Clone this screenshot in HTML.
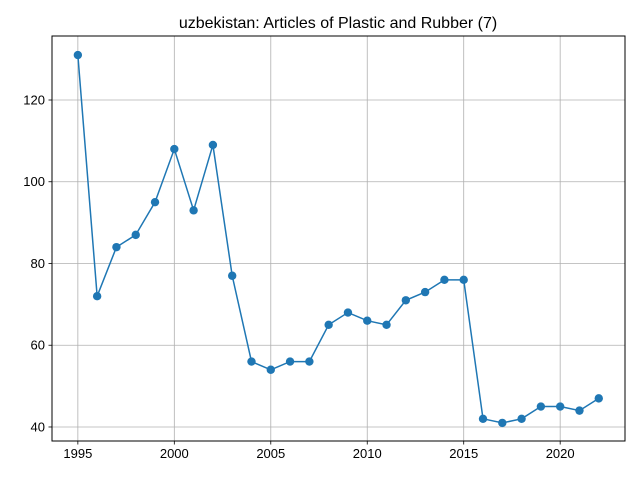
<!DOCTYPE html>
<html><head><meta charset="utf-8"><style>
body{margin:0;background:#fff;}
svg{display:block;font-family:"Liberation Sans","DejaVu Sans",sans-serif;}
</style></head><body>
<svg id="chart" width="640" height="480" viewBox="0 0 640 480">
<rect x="0" y="0" width="640" height="480" fill="#fff"/>
<text x="338" y="28" font-size="16" text-anchor="middle" fill="#000">uzbekistan: Articles of Plastic and Rubber (7)</text>
<g id="grid"></g>
<g id="ticks"></g>
<g id="series"></g>
<rect x="52" y="36" width="573" height="405" fill="none" stroke="#000" stroke-width="1"/>
</svg>
<script>
const years=[1995,1996,1997,1998,1999,2000,2001,2002,2003,2004,2005,2006,2007,2008,2009,2010,2011,2012,2013,2014,2015,2016,2017,2018,2019,2020,2021,2022];
const values=[131,72,84,87,95,108,93,109,77,56,54,56,56,65,68,66,65,71,73,76,76,42,41,42,45,45,44,47];
const xTicks=[1995,2000,2005,2010,2015,2020];
const yTicks=[40,60,80,100,120];
const L=52,R=625,T=36,B=441;
const xMin=1993.66,xMax=2023.36,yMin=36.57,yMax=135.66;
function sx(v){return L+(v-xMin)/(xMax-xMin)*(R-L);}
function sy(v){return B-(v-yMin)/(yMax-yMin)*(B-T);}
const NS="http://www.w3.org/2000/svg";
function mk(tag,attrs,parent){const e=document.createElementNS(NS,tag);for(const k in attrs)e.setAttribute(k,attrs[k]);parent.appendChild(e);return e;}
const grid=document.getElementById('grid'),ticks=document.getElementById('ticks'),series=document.getElementById('series');
xTicks.forEach(t=>{
 const x=sx(t);
 const g=mk('line',{x1:x,x2:x,y1:T,y2:B,stroke:'#b0b0b0','stroke-width':0.8},grid);
 
 
 const tk=mk('line',{x1:x,x2:x,y1:B,y2:B+3.5,stroke:'#000','stroke-width':0.8},ticks);
 
 
 const tx=mk('text',{x:x,y:B+17,'font-size':13,'text-anchor':'middle',fill:'#000'},ticks);
 tx.textContent=t;
 
 
});
yTicks.forEach(t=>{
 const y=sy(t);
 const g=mk('line',{x1:L,x2:R,y1:y,y2:y,stroke:'#b0b0b0','stroke-width':0.8},grid);
 
 
 const tk=mk('line',{x1:L-3.5,x2:L,y1:y,y2:y,stroke:'#000','stroke-width':0.8},ticks);
 
 
 const tx=mk('text',{x:L-7,y:y+4.5,'font-size':13,'text-anchor':'end',fill:'#000'},ticks);
 tx.textContent=t;
 
 
});
const pts=years.map((yr,i)=>sx(yr).toFixed(2)+','+sy(values[i]).toFixed(2)).join(' ');
const pl=mk('polyline',{points:pts,fill:'none',stroke:'#1f77b4','stroke-width':1.5},series);


years.forEach((yr,i)=>{
 const c=mk('circle',{cx:sx(yr),cy:sy(values[i]),r:4.2,fill:'#1f77b4'},series);
 
 
});
</script>
</body></html>
